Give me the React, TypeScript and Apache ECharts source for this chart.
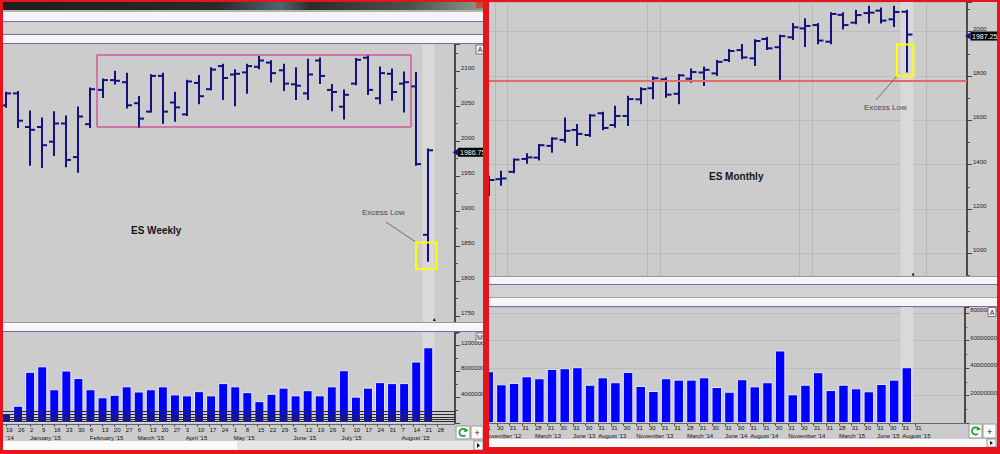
import React, { useEffect, useRef } from "react";
import * as echarts from "echarts";

// ---------------- Weekly (ES Weekly) ----------------
const weekLabels = ["19","26","2","9","16","23","30","6","13","20","27","6","13","20","27","3","10","17","24","1","8","15","22","29","5","12","19","26","3","10","17","24","31","7","14","21","28"];
const weekMonthRow = ["'14","","January '15","","","","","February '15","","","","March '15","","","","April '15","","","","May '15","","","","","June '15","","","","July '15","","","","","August '15","","",""];
const weekOpen = [2051,2068,2020,2020,1999,2025,1977,2024,2073,2087,2084,2054,2042,2093,2055,2038,2083,2074,2107,2095,2098,2106,2112,2101,2081,2068,2115,2073,2049,2082,2119,2061,2096,2082,2078,1866];
const weekHigh = [2069,2070,2042,2032,2041,2035,2048,2075,2088,2099,2096,2063,2094,2096,2069,2086,2093,2104,2109,2101,2109,2120,2114,2109,2104,2116,2118,2080,2072,2117,2121,2105,2102,2098,2097,1988];
const weekLow = [2049,2020,1966,1963,1980,1964,1956,2020,2063,2082,2048,2020,2042,2026,2029,2037,2054,2074,2060,2051,2069,2104,2085,2073,2060,2060,2083,2044,2032,2081,2067,2054,2059,2042,1966,1829];
const weekClose = [2068,2029,2016,1994,2025,1973,2035,2074,2087,2086,2051,2032,2093,2042,2048,2085,2064,2102,2090,2096,2107,2115,2097,2082,2079,2095,2093,2070,2066,2116,2073,2097,2070,2084,1967,1986.75];
const weekVolume = [1450000,2700000,7950000,8800000,5250000,8150000,7000000,5250000,4000000,4400000,5700000,4900000,5250000,5700000,4450000,4300000,4950000,4300000,6200000,5700000,4800000,3400000,4550000,5500000,4300000,5100000,4300000,5700000,8200000,4100000,5500000,6350000,6200000,6200000,9550000,11750000];
const weekVolLines = [1770000, 1360000, 950000, 590000, 220000];

// ---------------- Monthly (ES Monthly) ----------------
const monthLabels = ["31","30","31","31","28","31","30","31","30","31","31","30","31","30","31","31","28","31","30","31","30","31","31","30","31","30","31","31","28","31","30","31","30","31","31"];
const monthMonthRow = ["November '12","","","","March '13","","","June '13","","August '13","","","November '13","","","","March '14","","","June '14","","August '14","","","November '14","","","","March '15","","","June '15","","August '15",""];
const monthOpen = [1320,1335,1368,1426,1432,1485,1512,1557,1534,1632,1579,1620,1695,1745,1785,1720,1788,1816,1812,1872,1917,1880,1967,1930,1975,2015,2030,1955,2076,2041,2084,2095,2056,2090];
const monthHigh = [1346,1368,1424,1447,1489,1519,1609,1579,1624,1635,1662,1707,1745,1794,1790,1805,1830,1838,1868,1917,1940,1962,1973,1982,2035,2056,2035,2083,2083,2095,2113,2105,2113,2095];
const monthLow = [1263,1310,1366,1409,1424,1459,1504,1489,1530,1560,1571,1579,1677,1700,1707,1677,1774,1760,1805,1868,1880,1850,1922,1782,1967,1936,1948,1948,2015,2038,2041,2041,2026,1820];
const monthClose = [1331,1338,1423,1433,1488,1518,1553,1539,1622,1566,1620,1696,1741,1790,1716,1803,1818,1828,1864,1913,1884,1958,1925,1980,2020,2026,1960,2080,2030,2075,2086,2050,2089,1987.25];
const monthVolume = [37800000,28300000,29300000,34100000,32700000,39500000,40000000,40700000,28000000,33400000,29800000,37300000,27100000,23400000,32700000,31700000,31700000,33400000,26300000,22900000,32000000,26800000,29800000,52900000,21000000,28000000,37100000,24100000,28000000,25400000,23200000,28500000,31700000,40700000];
const monthSupport = 1779;
const monthYearLines = [1, 2, 13, 14, 25, 26];

// ---------------- layout / style ----------------
const FONT = "'Liberation Sans', Arial, sans-serif";
const BAR_COLOR = "#12127e";
const VOL_COLOR = "#0000ff";
const RED = "#e8141c";
const PURPLE = "#8068a8";

const WP = { left: -2.06, top: 44, width: 448.44, height: 278 };
const WPB = { left: 0, top: 44, width: 455, height: 278 };
const WV = { left: -2.06, top: 332, width: 448.44, height: 91.1 };
const WVB = { left: 0, top: 332, width: 455, height: 91.1 };
const WL = { left: -5.06, top: 423.5, width: 448.44, height: 1 };
const MP = { left: 482.37, top: 2, width: 443.45, height: 274 };
const MPB = { left: 486, top: 2, width: 481, height: 274 };
const MV = { left: 482.37, top: 307, width: 443.45, height: 116.2 };
const MVB = { left: 486, top: 307, width: 481, height: 116.2 };
const ML = { left: 477.87, top: 422.5, width: 443.45, height: 1 };

const W_MIN = 1741.43, W_MAX = 2138.57;
const WV_MAX = 14120000;
const M_MIN = 898.1, M_MAX = 2134;
const MV_MAX = 84500000;

function ohlc(tick: number) {
  return (_p: any, api: any) => {
    const i = api.value(0);
    const o = api.coord([i, api.value(1)]);
    const h = api.coord([i, api.value(2)]);
    const l = api.coord([i, api.value(3)]);
    const c = api.coord([i, api.value(4)]);
    const x = Math.round(o[0]);
    const st = { stroke: BAR_COLOR, lineWidth: 2 };
    return {
      type: "group",
      children: [
        { type: "line", shape: { x1: x, y1: h[1] - 1, x2: x, y2: l[1] + 1 }, style: st },
        { type: "line", shape: { x1: x - 1 - tick, y1: o[1], x2: x, y2: o[1] }, style: st },
        { type: "line", shape: { x1: x, y1: c[1], x2: x + 1 + tick, y2: c[1] }, style: st },
      ],
    };
  };
}

const hiddenCat = (grid: number, data: string[], extra: any = {}) => ({
  type: "category", gridIndex: grid, data, boundaryGap: true,
  axisLine: { show: false }, axisTick: { show: false }, axisLabel: { show: false },
  splitLine: { show: false }, ...extra,
});
const hiddenVal = (grid: number) => ({ type: "value", gridIndex: grid, min: 0, max: 1, show: false });
const dataVal = (grid: number, min: number, max: number) => ({ type: "value", gridIndex: grid, min, max, show: false });
const labelCat = (grid: number, data: string[], row2: string[], margin: number) => ({
  type: "category", gridIndex: grid, data, boundaryGap: true, position: "bottom",
  axisLine: { show: false },
  axisTick: { show: true, alignWithLabel: true, length: 2, lineStyle: { color: "#333", width: 1 } },
  axisLabel: {
    interval: 0, align: "left", fontSize: 6, lineHeight: 7.5, margin, color: "#111", fontFamily: FONT,
    formatter: (v: string, i: number) => (row2[i] ? v + "\n" + row2[i] : v),
  },
  splitLine: { show: false },
});
const sideAxis = (grid: number, min: number, max: number, extra: any, minorSplit: number, split: boolean) => ({
  type: "value", gridIndex: grid, position: "right", min, max, ...extra,
  axisLine: { show: true, onZero: false, lineStyle: { color: "#4a4a4a", width: 2 } },
  axisTick: { show: true, length: 5, lineStyle: { color: "#444" } },
  minorTick: { show: true, splitNumber: minorSplit, length: 3, lineStyle: { color: "#555" } },
  axisLabel: {
    fontSize: 6, color: "#222", margin: 6, verticalAlign: "bottom", fontFamily: FONT,
    showMinLabel: false, showMaxLabel: false,
    formatter: (v: number) => String(Math.round(v)),
  },
  splitLine: { show: split, lineStyle: { color: "#bcbcbc", width: 1 } },
});

const weekOHLC = weekOpen.map((o, i) => [i, o, weekHigh[i], weekLow[i], weekClose[i]]);
const monthOHLC = monthOpen.map((o, i) => [i, o, monthHigh[i], monthLow[i], monthClose[i]]);

const option: any = {
  animation: false,
  backgroundColor: "#cccccc",
  grid: [WP, WPB, WV, WVB, WL, MP, MPB, MV, MVB, ML].map((g) => ({ ...g, containLabel: false, show: false })),
  xAxis: [
    hiddenCat(0, weekLabels),
    hiddenVal(1),
    hiddenCat(2, weekLabels),
    hiddenVal(3),
    labelCat(4, weekLabels, weekMonthRow, 2),
    hiddenCat(5, monthLabels, {
      splitLine: {
        show: true,
        interval: (i: number) => monthYearLines.indexOf(i) >= 0,
        lineStyle: { color: "#b8b8b8", width: 1 },
      },
    }),
    hiddenVal(6),
    hiddenCat(7, monthLabels),
    hiddenVal(8),
    labelCat(9, monthLabels, monthMonthRow, 1),
  ],
  yAxis: [
    dataVal(0, W_MIN, W_MAX),
    sideAxis(1, W_MIN, W_MAX, { splitNumber: 8 }, 2, false),
    dataVal(2, 0, WV_MAX),
    sideAxis(3, 0, WV_MAX, { interval: 4000000 }, 2, false),
    hiddenVal(4),
    dataVal(5, M_MIN, M_MAX),
    sideAxis(6, M_MIN, M_MAX, { splitNumber: 6 }, 2, true),
    dataVal(7, 0, MV_MAX),
    sideAxis(8, 0, MV_MAX, { interval: 20000000 }, 2, true),
    hiddenVal(9),
  ],
  series: [
    {
      type: "custom", name: "ES Weekly", xAxisIndex: 0, yAxisIndex: 0, data: weekOHLC,
      encode: { x: 0, y: [1, 2, 3, 4] }, renderItem: ohlc(4), z: 3, silent: true,
    },
    {
      type: "bar", name: "Weekly Volume", xAxisIndex: 2, yAxisIndex: 2, data: weekVolume, barWidth: 10,
      itemStyle: { color: VOL_COLOR, borderColor: "#e8e8f6", borderWidth: 1 }, silent: true, z: 2,
    },
    {
      type: "line", xAxisIndex: 3, yAxisIndex: 3, data: [], silent: true,
      markLine: {
        silent: true, symbol: ["none", "none"], label: { show: false },
        lineStyle: { color: "#2a2a2a", width: 1, type: "solid" },
        data: weekVolLines.map((v) => ({ yAxis: v })),
      },
    },
    {
      type: "custom", name: "ES Monthly", xAxisIndex: 5, yAxisIndex: 5, data: monthOHLC,
      encode: { x: 0, y: [1, 2, 3, 4] }, renderItem: ohlc(4.5), z: 3, silent: true,
    },
    {
      type: "bar", name: "Monthly Volume", xAxisIndex: 7, yAxisIndex: 7, data: monthVolume, barWidth: 10.5,
      itemStyle: { color: VOL_COLOR, borderColor: "#e8e8f6", borderWidth: 1 }, silent: true, z: 2,
    },
    {
      type: "line", xAxisIndex: 6, yAxisIndex: 6, data: [], silent: true,
      markLine: {
        silent: true, symbol: ["none", "none"], label: { show: false },
        lineStyle: { color: "#e46a6a", width: 2, type: "solid" },
        data: [{ yAxis: monthSupport }],
      },
    },
  ],
};

const rect = (x: number, y: number, w: number, h: number, fill: any, z = 50, stroke?: string, lw = 1) => ({
  type: "rect", shape: { x, y, width: w, height: h }, style: { fill, stroke: stroke || null, lineWidth: lw }, z, silent: true,
});
const hline = (x1: number, x2: number, y: number, stroke: string, z = 50, lw = 1) => ({
  type: "line", shape: { x1, y1: y, x2, y2: y }, style: { stroke, lineWidth: lw }, z, silent: true,
});
const seg = (x1: number, y1: number, x2: number, y2: number, stroke: string, lw = 1, z = 50) => ({
  type: "line", shape: { x1, y1, x2, y2 }, style: { stroke, lineWidth: lw }, z, silent: true,
});
const txt = (x: number, y: number, text: string, size: number, fill: string, weight = "normal", z = 51, align = "left") => ({
  type: "text", x, y, z, silent: true,
  style: { text, fill, fontSize: size, fontWeight: weight, fontFamily: FONT, verticalAlign: "middle", align },
});
const poly = (pts: number[][], fill: string, z = 52) => ({ type: "polygon", shape: { points: pts }, style: { fill }, z, silent: true });
const refreshBtn = (x: number, y: number, w: number, h: number) => [
  rect(x, y, w, h, "#f6f6f6", 50, "#9a9a9a"),
  { type: "arc", shape: { cx: x + w / 2, cy: y + h / 2, r: 3.6, startAngle: 0.9, endAngle: 5.9 }, style: { stroke: "#1f9a2a", lineWidth: 1.6, fill: null }, z: 51, silent: true },
  poly([[x + w / 2 + 2, y + h / 2 - 4.5], [x + w / 2 + 5.5, y + h / 2 - 1.5], [x + w / 2 + 1, y + h / 2 - 0.5]], "#1f9a2a"),
];
const plusBtn = (x: number, y: number, w: number, h: number) => [
  rect(x, y, w, h, "#fafafa", 50, "#9a9a9a"),
  txt(x + w / 2, y + h / 2 + 0.5, "+", 9, "#222", "normal", 51, "center"),
];
const letterBox = (x: number, y: number, ch: string) => [
  rect(x, y, 8, 9, "#f4f4f4", 50, "#777"),
  txt(x + 4, y + 4.8, ch, 7, "#222", "normal", 51, "center"),
];
const scrollBtn = (x: number, y: number, w: number, h: number) => [
  rect(x, y, w, h, "#f4f4f4", 50, "#999"),
  poly([[x + 3, y + 2], [x + 3, y + h - 2], [x + 6, y + h / 2]], "#111"),
];

export default function App() {
  const ref = useRef<HTMLDivElement>(null);
  useEffect(() => {
    const chart = echarts.init(ref.current as HTMLDivElement, undefined, { renderer: "svg" });
    chart.setOption(option);

    const wi = weekClose.length - 1;
    const wx = chart.convertToPixel({ xAxisIndex: 0 } as any, wi) as number;
    const wbw = wx - (chart.convertToPixel({ xAxisIndex: 0 } as any, wi - 1) as number);
    const wy = chart.convertToPixel({ yAxisIndex: 0 } as any, weekClose[wi]) as number;
    const mi = monthClose.length - 1;
    const mx = chart.convertToPixel({ xAxisIndex: 5 } as any, mi) as number;
    const mbw = mx - (chart.convertToPixel({ xAxisIndex: 5 } as any, mi - 1) as number);
    const my = chart.convertToPixel({ yAxisIndex: 5 } as any, monthClose[mi]) as number;

    const titleGrad = {
      type: "linear", x: 0, y: 0, x2: 1, y2: 0,
      colorStops: [
        { offset: 0, color: "#1e1e1e" }, { offset: 0.45, color: "#2a2a2a" },
        { offset: 0.58, color: "#4d6670" }, { offset: 0.64, color: "#2c2c2c" },
        { offset: 0.85, color: "#4a5548" }, { offset: 1, color: "#8c9a8c" },
      ],
    };

    const elements: any[] = [
      // highlighted last bar columns
      rect(wx - wbw / 2, WP.top, wbw, WP.height, "#d9d9d9", 1),
      rect(wx - wbw / 2, WV.top, wbw, WV.height, "#d9d9d9", 1),
      rect(mx - mbw / 2, MP.top, mbw, MP.height, "#d9d9d9", 1),
      rect(mx - mbw / 2, MV.top, mbw, MV.height, "#d9d9d9", 1),
      poly([[wx + wbw / 2 - 1.5, 321], [wx + wbw / 2 + 1.5, 321], [wx + wbw / 2, 318]], "#111"),
      poly([[mx + mbw / 2 - 1.5, 275.5], [mx + mbw / 2 + 1.5, 275.5], [mx + mbw / 2, 272.5]], "#111"),

      // left panel top chrome
      rect(3, 2, 480, 8, titleGrad),
      rect(476, 2, 7, 6, "#c0503a", 51),
      rect(3, 10, 480, 2, "#b4b4b4"),
      rect(3, 12, 480, 9, "#f4f4f4"),
      hline(3, 483, 21.5, PURPLE),
      rect(3, 22, 480, 12, "#d2d2d2"),
      hline(3, 483, 34.5, PURPLE),
      rect(3, 35, 480, 8, "#f6f6f6"),
      hline(3, 483, 43.5, PURPLE),
      // weekly price / volume separator
      hline(3, 483, 322.5, "#9a9a9a"),
      rect(3, 323, 480, 8, "#f6f6f6"),
      hline(3, 483, 331.5, PURPLE),
      // monthly separators
      hline(489, 997, 276.5, "#9a9a9a"),
      rect(489, 277, 508, 7, "#f6f6f6"),
      hline(489, 997, 284.5, PURPLE),
      rect(489, 285, 508, 12, "#d2d2d2"),
      hline(489, 997, 297.5, "#a4a4a4"),
      rect(489, 298, 508, 8, "#f6f6f6"),
      hline(489, 997, 306.5, PURPLE),
      // date strips lines
      hline(3, 455, 424.5, "#666"),
      hline(489, 967, 423.5, "#666"),
      // scrollbars
      rect(3, 441, 234, 9, "#fafafa"),
      rect(237, 441, 236, 9, "#e6e6e6"),
      ...scrollBtn(474, 441, 9, 9),
      rect(489, 439, 498, 8, "#fafafa"),
      ...scrollBtn(987, 439, 9, 8),
      // buttons
      ...refreshBtn(456, 426, 14, 13),
      ...plusBtn(471, 426, 12, 13),
      ...refreshBtn(969, 424, 13, 14),
      ...plusBtn(983, 424, 13, 14),
      ...letterBox(476, 45, "A"),
      ...letterBox(476, 333, "M"),
      ...letterBox(988, 307.5, "A"),

      // annotations
      rect(97, 55, 314, 72, null, 40, "#cc2288", 1),
      txt(131, 230, "ES Weekly", 10, "#151515", "bold"),
      txt(709, 176, "ES Monthly", 10, "#151515", "bold"),
      txt(362, 212.5, "Excess Low", 8, "#4a4a4a"),
      seg(386, 222, 415, 241.5, "#555", 0.8),
      rect(416, 242.5, 20.5, 26.5, null, 40, "#ffff00", 2),
      txt(864, 107, "Excess Low", 8, "#4a4a4a"),
      seg(876, 100, 896.5, 76.5, "#555", 0.8),
      rect(897, 44.5, 16.5, 31.5, null, 40, "#ffff00", 2),

      // last price tags
      poly([[452.5, wy + 2], [458, wy - 1.5], [458, wy + 5.5]], "#151590", 53),
      rect(458, wy - 2.5, 28, 9, "#000", 52),
      txt(460, wy + 2, String(weekClose[wi]), 7, "#ffffff", "normal", 53),
      poly([[965, my + 1.5], [970.5, my - 2], [970.5, my + 5]], "#151590", 53),
      rect(970.5, my - 3, 30, 9, "#000", 52),
      txt(972, my + 1.5, String(monthClose[mi]), 7, "#ffffff", "normal", 53),

      // red frames
      rect(0, 0, 3, 454, RED, 60),
      rect(0, 0, 1000, 2, RED, 60),
      rect(0, 450, 486, 4, RED, 60),
      rect(483, 0, 6, 454, RED, 60),
      rect(486, 447, 514, 7, RED, 60),
      rect(997, 0, 3, 454, RED, 60),
    ];
    chart.setOption({ graphic: { elements } });
    return () => chart.dispose();
  }, []);
  return <div ref={ref} style={{ position: "absolute", left: 0, top: 0, width: 1000, height: 454 }} />;
}
